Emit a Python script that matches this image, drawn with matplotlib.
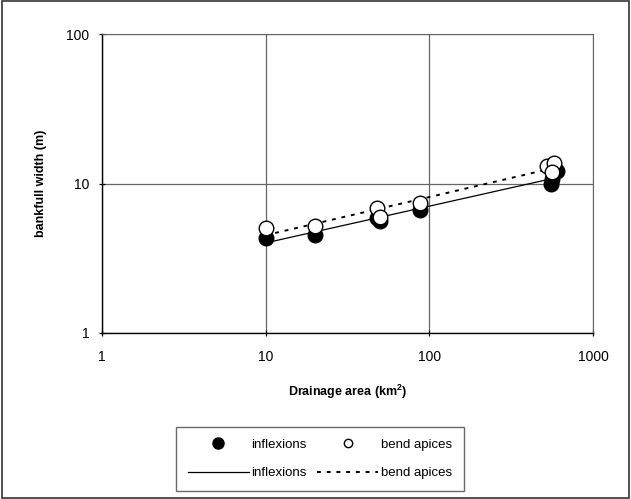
import numpy as np
import matplotlib.pyplot as plt
from matplotlib.lines import Line2D

plt.rcParams['font.family'] = ['Liberation Sans', 'DejaVu Sans']

# drainage area (km2) and bankfull width (m)
area_infl = [10, 20, 48, 50, 88, 550, 560, 600]
width_infl = [4.35, 4.55, 5.9, 5.6, 6.7, 10.0, 10.8, 12.2]
area_bend = [10, 20, 48, 50, 88, 520, 580, 560]
width_bend = [5.05, 5.2, 6.9, 6.0, 7.45, 13.0, 13.7, 12.0]


def powerfit(x, y):
    x = np.asarray(x, float)
    y = np.asarray(y, float)
    b, a = np.polyfit(np.log10(x), np.log10(y), 1)
    xs = np.array([x.min(), x.max()])
    return xs, 10 ** a * xs ** b


fig = plt.figure(figsize=(6.31, 4.99), dpi=100)
ax = fig.add_axes([102 / 631, 1 - 333 / 499, 491 / 631, 299 / 499])
fig.patches.append(plt.Rectangle((0.003, 0.003), 0.994, 0.994, transform=fig.transFigure,
                                 fill=False, edgecolor='#333333', linewidth=1.2))

xs, ys = powerfit(area_infl, width_infl)
ax.plot(xs, ys, color='black', linewidth=0.9, zorder=2)
xs, ys = powerfit(area_bend, width_bend)
ax.plot(xs, ys, color='black', linewidth=1.4, linestyle=(0, (2, 3)), zorder=2)

ax.plot(area_infl, width_infl, 'o', markersize=10.5, markerfacecolor='black',
        markeredgecolor='black', linestyle='none', zorder=3)
ax.plot(area_bend, width_bend, 'o', markersize=10.5, markerfacecolor='white',
        markeredgecolor='black', markeredgewidth=1.0, linestyle='none', zorder=4)

ax.set_xscale('log')
ax.set_yscale('log')
ax.set_xlim(1, 1000)
ax.set_ylim(1, 100)
ax.set_xticks([1, 10, 100, 1000])
ax.set_xticklabels(['1', '10', '100', '1000'])
ax.set_yticks([1, 10, 100])
ax.set_yticklabels(['1', '10', '100'])
ax.minorticks_off()
ax.grid(True, which='major', color='#666666', linewidth=0.9)
ax.tick_params(axis='both', labelsize=10, length=4, width=0.9, direction='inout')
ax.tick_params(axis='x', pad=10)
ax.tick_params(axis='y', pad=7)
for s in ['top', 'right']:
    ax.spines[s].set_color('#666666')
for s in ['left', 'bottom']:
    ax.spines[s].set_linewidth(1.0)

ax.set_xlabel('Drainage area (km$^{\\mathregular{2}}$)', fontsize=9, fontweight='bold', labelpad=14)
ax.set_ylabel('bankfull width (m)', fontsize=9, fontweight='bold', labelpad=14)

handles = [
    Line2D([], [], marker='o', color='black', linestyle='none', markersize=8),
    Line2D([], [], color='black', linewidth=0.9),
    Line2D([], [], marker='o', markerfacecolor='white', markeredgecolor='black',
           linestyle='none', markersize=6),
    Line2D([], [], color='black', linewidth=1.4, linestyle=(0, (2, 3))),
]
labels = ['inflexions', 'inflexions', 'bend apices', 'bend apices']
leg = fig.legend(handles, labels, ncol=2, loc='center', bbox_to_anchor=(320 / 631, 1 - 459 / 499),
                 fontsize=9.5, frameon=True, fancybox=False, edgecolor='#444444',
                 handlelength=4.6, handletextpad=0.2, columnspacing=0.8, borderpad=0.9,
                 labelspacing=1.2, borderaxespad=0)
leg.get_frame().set_linewidth(1.0)

fig.savefig('out.png', dpi=100)
